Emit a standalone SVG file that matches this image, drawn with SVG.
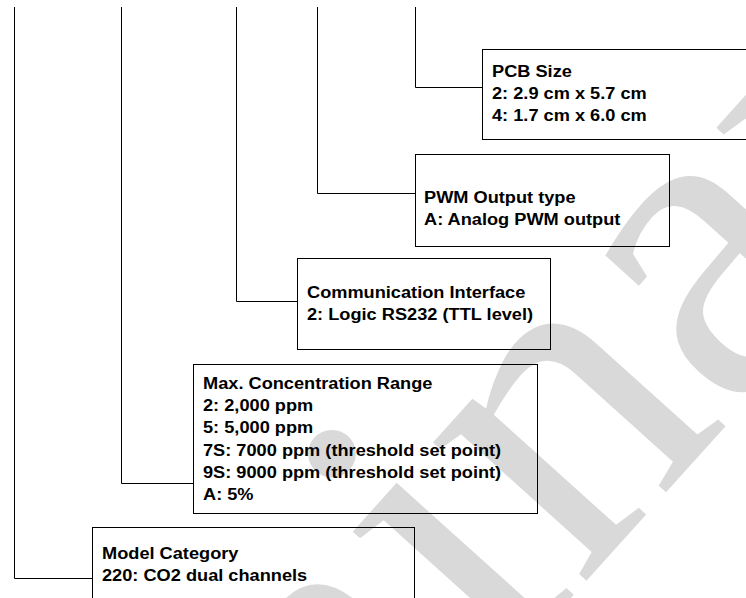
<svg xmlns="http://www.w3.org/2000/svg" width="746" height="598" viewBox="0 0 746 598">
<style>
.wm{font-family:"Liberation Serif","Times New Roman",serif;font-size:450px;fill:#d9d9d9}
.box{fill:none;stroke:#000;stroke-width:1}
.conn{fill:none;stroke:#000;stroke-width:1}
.t{font-family:"Liberation Sans",Arial,sans-serif;font-weight:bold;font-size:16.4px;fill:#000}
</style>
<rect width="746" height="598" fill="#fff"/>
<g id="watermark">
<text class="wm" x="-307" y="1573" transform="rotate(-48 -307 1573)">Preliminary</text>
</g>
<g id="connectors">
<polyline class="conn" points="415.5,7 415.5,87.5 482,87.5"/>
<polyline class="conn" points="317.5,7 317.5,193.5 415,193.5"/>
<polyline class="conn" points="236.5,7 236.5,301.5 297,301.5"/>
<polyline class="conn" points="121.5,7 121.5,483.5 193,483.5"/>
<polyline class="conn" points="14.5,7 14.5,578.5 92,578.5"/>
</g>
<g id="pcb-size">
<rect class="box" x="482.5" y="49.5" width="300" height="90"/>
<text class="t" transform="translate(492 76.5) scale(1.11 1)"><tspan x="0" y="0">PCB Size</tspan><tspan x="0" y="22.2">2: 2.9 cm x 5.7 cm</tspan><tspan x="0" y="44.4">4: 1.7 cm x 6.0 cm</tspan></text>
</g>
<g id="pwm-output">
<rect class="box" x="415.5" y="154.5" width="254" height="92"/>
<text class="t" transform="translate(424 203) scale(1.11 1)"><tspan x="0" y="0">PWM Output type</tspan><tspan x="0" y="22.2">A: Analog PWM output</tspan></text>
</g>
<g id="comm-interface">
<rect class="box" x="297.5" y="258.5" width="253" height="91"/>
<text class="t" transform="translate(307 298) scale(1.11 1)"><tspan x="0" y="0">Communication Interface</tspan><tspan x="0" y="22.2">2: Logic RS232 (TTL level)</tspan></text>
</g>
<g id="max-range">
<rect class="box" x="193.5" y="364.5" width="344" height="149"/>
<text class="t" transform="translate(203 389) scale(1.11 1)"><tspan x="0" y="0">Max. Concentration Range</tspan><tspan x="0" y="22.2">2: 2,000 ppm</tspan><tspan x="0" y="44.4">5: 5,000 ppm</tspan><tspan x="0" y="66.6">7S: 7000 ppm (threshold set point)</tspan><tspan x="0" y="88.8">9S: 9000 ppm (threshold set point)</tspan><tspan x="0" y="111">A: 5%</tspan></text>
</g>
<g id="model-category">
<rect class="box" x="92.5" y="527.5" width="322" height="100"/>
<text class="t" transform="translate(102 559) scale(1.11 1)"><tspan x="0" y="0">Model Category</tspan><tspan x="0" y="22.2">220: CO2 dual channels</tspan></text>
</g>
</svg>
